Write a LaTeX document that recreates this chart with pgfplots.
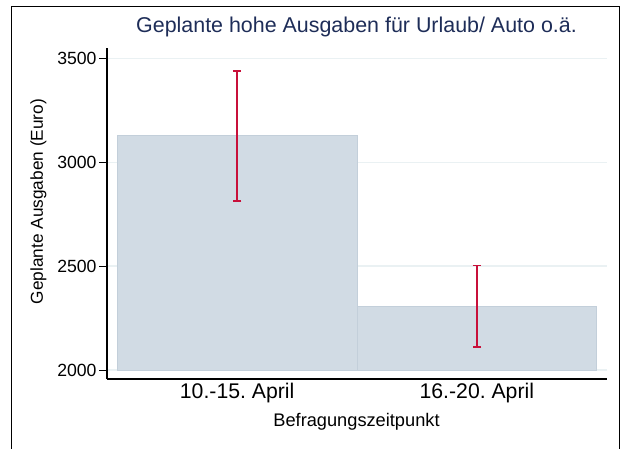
\documentclass[border=0pt]{standalone}
\usepackage{fontspec}
\setmainfont{Liberation Sans}
\usepackage{pgfplots}
\pgfplotsset{compat=1.18}
\definecolor{barfill}{RGB}{209,219,228}
\definecolor{baredge}{RGB}{195,207,218}
\definecolor{errred}{RGB}{200,16,58}
\definecolor{titlec}{RGB}{30,45,88}
\definecolor{gridc}{RGB}{234,241,243}
\begin{document}
\frenchspacing
\begin{tikzpicture}
\path[use as bounding box] (0,0) rectangle (622bp,449bp);
\draw[line width=1.2bp] (11.5bp,0) -- (11.5bp,442.5bp) -- (619.5bp,442.5bp) -- (619.5bp,0);
\begin{axis}[
  at={(107bp,70bp)}, anchor=south west,
  width=500bp, height=331bp, scale only axis,
  xmin=0.457, xmax=2.543, ymin=1956.7, ymax=3549.5,
  axis x line*=bottom, axis y line*=left,
  axis line style={-, line width=1.1bp, black},
  xtick={1,2}, xticklabels={10.-15.\ April,16.-20.\ April},
  ytick={2000,2500,3000,3500},
  /pgf/number format/1000 sep={},
  /pgf/number format/assume math mode=true,
  ymajorgrids, grid style={color=gridc, line width=1.3bp},
  tick align=outside,
  major tick length=7.7bp,
  x tick style={draw=none},
  y tick style={black, line width=1bp},
  xticklabel style={font=\fontsize{21.3}{21.3}\selectfont, anchor=base, inner sep=0pt, yshift=-11.3bp},
  yticklabel style={font=\fontsize{17.7}{17.7}\selectfont, anchor=east, inner sep=0pt, xshift=-2.6bp},
  title={Geplante hohe Ausgaben für Urlaub/ Auto o.ä.},
  title style={font=\fontsize{21.5}{21.5}\selectfont, color=titlec, anchor=base, at={(rel axis cs:0.499,1.0287)}},
  xlabel={Befragungszeitpunkt},
  xlabel style={font=\fontsize{18.3}{18.3}\selectfont, anchor=base, at={(rel axis cs:0.499,-0.145)}},
  ylabel={Geplante Ausgaben (Euro)},
  ylabel style={font=\fontsize{17.3}{17.3}\selectfont, anchor=base, rotate=0, at={(rel axis cs:-0.128,0.536)}},
  clip=false,
]
\addplot[fill=barfill, draw=baredge, line width=0.8bp] coordinates {(0.5,2000) (0.5,3131) (1.5,3131) (1.5,2000)} -- cycle;
\addplot[fill=barfill, draw=baredge, line width=0.8bp] coordinates {(1.5,2000) (1.5,2306) (2.5,2306) (2.5,2000)} -- cycle;
\addplot[draw=none, mark=none,
  error bars/.cd, y dir=both, y explicit,
  error bar style={draw=errred, line width=1.8bp},
  error mark options={rotate=90, draw=errred, line width=1.8bp, mark size=4.2bp}]
  coordinates {
    (1,3131) += (0,309) -= (0,317)
    (2,2306) += (0,197) -= (0,197)
  };
\end{axis}
\end{tikzpicture}
\end{document}
